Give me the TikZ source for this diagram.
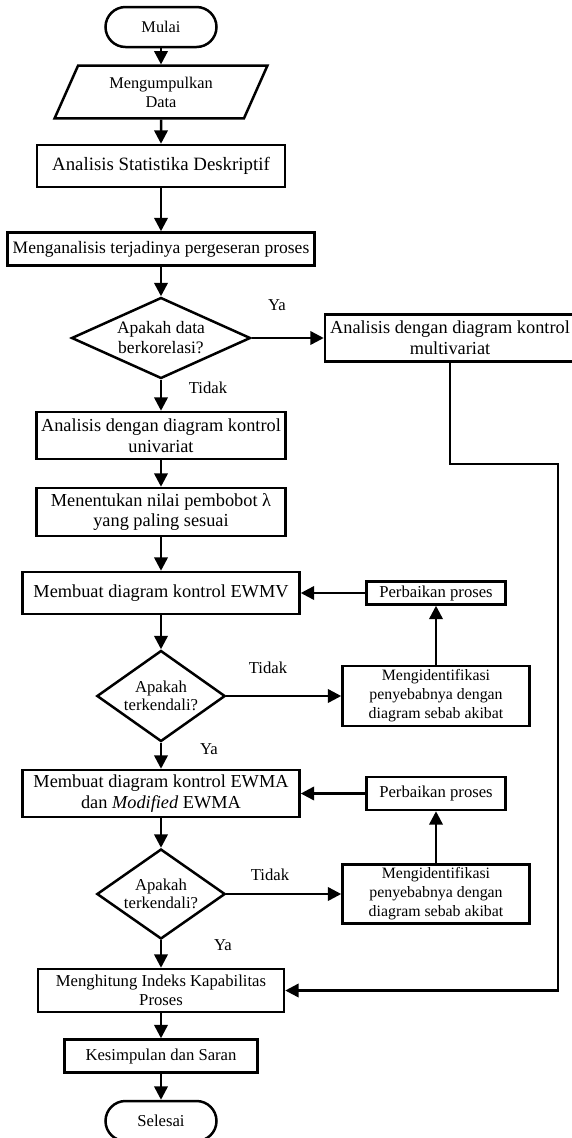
\documentclass[tikz,border=0pt]{standalone}
\usepackage{fontspec}
\setmainfont{Liberation Serif}
\usetikzlibrary{shapes.geometric, arrows.meta}
\tikzset{
    flow box/.style = {draw, line width=1.5pt, rectangle, inner sep=1pt, align=center},
    flow term/.style = {draw, line width=1.5pt, rectangle, rounded corners=12pt, minimum width=66.6pt, minimum height=24pt},
    flow data/.style = {draw, line width=1.5pt, trapezium, trapezium left angle=66, trapezium right angle=114, inner sep=1pt, align=center},
    flow choice/.style = {draw, line width=1.5pt, diamond, inner sep=0pt, align=center},
    flow edge/.style = {draw, line width=1.5pt, -{Triangle[length=8pt, width=8pt]}},
    flow label/.style = {inner sep=0pt, font=\fontsize{10}{12}\selectfont},
}
\newcommand{\flowbig}{\fontsize{11}{12.5}\selectfont}
\newcommand{\flowmid}{\fontsize{10}{11.5}\selectfont}

\begin{document}
\begin{tikzpicture}[x=0.6pt, y=-0.6pt]
            \useasboundingbox (0, 0) rectangle (572, 1138);

            \node[flow term, font=\fontsize{9.8}{11}\selectfont] (mulai) at (161, 27) {Mulai};
            \node[flow data, minimum width=129pt, minimum height=24pt, font=\fontsize{9.8}{11.4}\selectfont] (data) at (161, 92) {Mengumpulkan\\Data};
            \node[flow box, minimum width=148.8pt, minimum height=25.2pt, font=\fontsize{11.3}{13}\selectfont] (stat) at (161, 166) {Analisis Statistika Deskriptif};
            \node[flow box, minimum width=184.2pt, minimum height=19.8pt, font=\fontsize{10.5}{12}\selectfont] (geser) at (161, 249) {Menganalisis terjadinya pergeseran proses};

            \node[flow choice, aspect=2.2, minimum width=107.4pt, minimum height=48.6pt, font=\fontsize{10.5}{12}\selectfont] (korel) at (161, 338) {Apakah data\\berkorelasi?};
            \node[flow box, minimum width=150pt, minimum height=28.2pt, font=\flowbig] (multi) at (450, 338) {Analisis dengan diagram kontrol\\multivariat};

            \node[flow box, minimum width=149.4pt, minimum height=28.2pt, font=\flowbig] (univ) at (161, 435.5) {Analisis dengan diagram kontrol\\univariat};
            \node[flow box, minimum width=149.4pt, minimum height=28.8pt, font=\flowbig] (lambda) at (161, 512) {Menentukan nilai pembobot λ\\yang paling sesuai};

            \node[flow box, minimum width=166.2pt, minimum height=25.2pt, font=\flowbig] (ewmv) at (161, 593) {Membuat diagram kontrol EWMV};
            \node[flow box, minimum width=83.4pt, minimum height=13.8pt, font=\flowmid] (baik1) at (436, 593) {Perbaikan proses};
            \node[flow choice, aspect=1.4, minimum width=77pt, minimum height=54.6pt, font=\fontsize{10}{11}\selectfont] (cek1) at (161, 696) {Apakah\\terkendali?};
            \node[flow box, minimum width=112.2pt, minimum height=36pt, font=\fontsize{9.5}{11.4}\selectfont] (sebab1) at (436, 696) {Mengidentifikasi\\penyebabnya dengan\\diagram sebab akibat};

            \node[flow box, minimum width=166.2pt, minimum height=28.2pt, font=\flowbig] (ewma) at (161, 793.5) {Membuat diagram kontrol EWMA\\dan \textit{Modified} EWMA};
            \node[flow box, minimum width=83.4pt, minimum height=19.8pt, font=\flowmid] (baik2) at (436, 793.5) {Perbaikan proses};
            \node[flow choice, aspect=1.4, minimum width=77pt, minimum height=54pt, font=\fontsize{10}{11}\selectfont] (cek2) at (161, 894) {Apakah\\terkendali?};
            \node[flow box, minimum width=112.2pt, minimum height=35.4pt, font=\fontsize{9.5}{11.4}\selectfont] (sebab2) at (436, 894) {Mengidentifikasi\\penyebabnya dengan\\diagram sebab akibat};

            \node[flow box, minimum width=147.6pt, minimum height=25.8pt, font=\flowmid] (hitung) at (161, 990.5) {Menghitung Indeks Kapabilitas\\Proses};
            \node[flow box, minimum width=115.8pt, minimum height=19.8pt, font=\flowmid] (saran) at (161, 1056) {Kesimpulan dan Saran};
            \node[flow term, font=\flowmid] (selesai) at (161, 1121) {Selesai};

            \node[flow label] (ya1) at (277, 305) {Ya};
            \node[flow label] (tidak1) at (208, 388) {Tidak};
            \node[flow label] (tidak2) at (268, 668) {Tidak};
            \node[flow label] (ya2) at (209, 749) {Ya};
            \node[flow label] (tidak3) at (270, 875) {Tidak};
            \node[flow label] (ya3) at (223, 945) {Ya};

            \coordinate (belok) at (558, 464);

            \draw[flow edge] (mulai) -- (data);
            \draw[flow edge] (data) -- (stat);
            \draw[flow edge] (stat) -- (geser);
            \draw[flow edge] (geser) -- (korel);
            \draw[flow edge] (korel) -- (multi);
            \draw[flow edge] (korel) -- (univ);
            \draw[flow edge] (univ) -- (lambda);
            \draw[flow edge] (lambda) -- (ewmv);
            \draw[flow edge] (ewmv) -- (cek1);
            \draw[flow edge] (cek1) -- (sebab1);
            \draw[flow edge] (sebab1) -- (baik1);
            \draw[flow edge] (baik1) -- (ewmv);
            \draw[flow edge] (cek1) -- (ewma);
            \draw[flow edge] (ewma) -- (cek2);
            \draw[flow edge] (cek2) -- (sebab2);
            \draw[flow edge] (sebab2) -- (baik2);
            \draw[flow edge] (baik2) -- (ewma);
            \draw[flow edge] (cek2) -- (hitung);
            \draw[flow edge] (multi.south) -- (multi.south |- belok) -- (belok) |- (hitung);
            \draw[flow edge] (hitung) -- (saran);
            \draw[flow edge] (saran) -- (selesai);
        \end{tikzpicture}
\end{document}
